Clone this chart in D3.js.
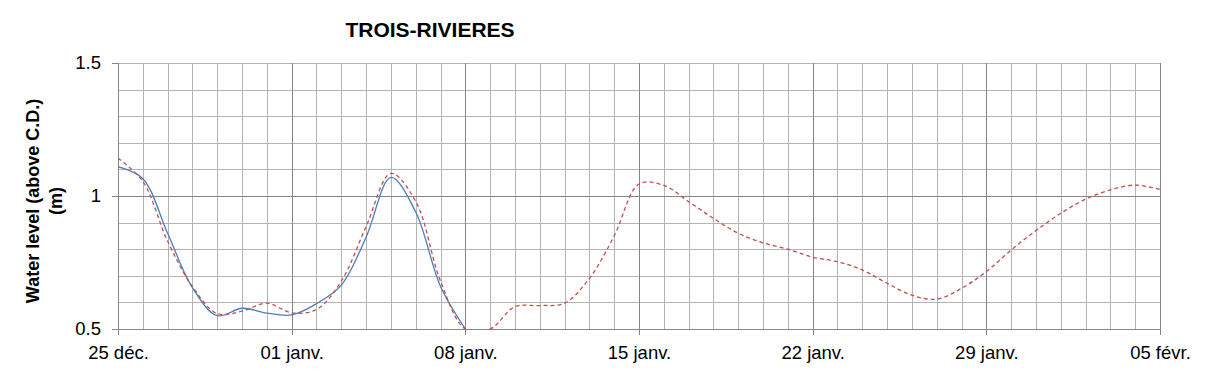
<!DOCTYPE html>
<html>
<head>
<meta charset="utf-8">
<script src="https://cdn.jsdelivr.net/npm/d3@7"></script>
<style>
  body { margin: 0; background: #fff; }
  svg { display: block; font-family: "Liberation Sans", Arial, sans-serif; }
</style>
</head>
<body>
<svg id="chart" width="1209" height="378"></svg>
<script>
// daily values starting 25 déc.
const startDate = new Date(2012, 11, 25);
const endDate = new Date(2013, 1, 5);
const observed = [1.11, 1.065, 0.86, 0.655, 0.55, 0.578, 0.56, 0.553, 0.595, 0.665,
  0.845, 1.07, 0.94, 0.66, 0.5];
const predicted = [1.142, 1.055, 0.83, 0.66, 0.558, 0.567, 0.597, 0.561, 0.573, 0.68,
  0.885, 1.085, 0.98, 0.68, 0.5, 0.5, 0.584, 0.588, 0.597, 0.69,
  0.85, 1.045, 1.04, 0.979, 0.916, 0.86, 0.824, 0.8, 0.77, 0.753,
  0.722, 0.672, 0.627, 0.612, 0.653, 0.716, 0.797, 0.87, 0.935, 0.988,
  1.023, 1.041, 1.025];
const yTicks = [0.5, 1, 1.5];
const title = "TROIS-RIVIERES";
const yLabel = ["Water level (above C.D.)", "(m)"];

const fr = d3.timeFormatLocale({
  dateTime: "%A %e %B %Y à %X", date: "%d/%m/%Y", time: "%H:%M:%S",
  periods: ["AM", "PM"],
  days: ["dimanche", "lundi", "mardi", "mercredi", "jeudi", "vendredi", "samedi"],
  shortDays: ["dim.", "lun.", "mar.", "mer.", "jeu.", "ven.", "sam."],
  months: ["janvier", "février", "mars", "avril", "mai", "juin", "juillet", "août", "septembre", "octobre", "novembre", "décembre"],
  shortMonths: ["janv.", "févr.", "mars", "avr.", "mai", "juin", "juil.", "août", "sept.", "oct.", "nov.", "déc."]
});

const svg = d3.select("#chart");
const marginLeft = 118, marginTop = 63, width = 1042, height = 266;

const x = d3.scaleTime().domain([startDate, endDate]).range([marginLeft, marginLeft + width]);
const y = d3.scaleLinear().domain([0.5, 1.5]).range([marginTop + height, marginTop]);

const toPoints = (arr) => arr.map((v, i) => [d3.timeDay.offset(startDate, i), v]);

const minorColor = "#b4b4b4", majorColor = "#868686";

// minor grid
svg.append("g")
  .attr("transform", `translate(0,${marginTop + height})`)
  .call(d3.axisBottom(x).ticks(d3.timeDay.every(1)).tickSize(-height).tickFormat(""))
  .call((g) => g.select(".domain").remove())
  .call((g) => g.selectAll("line").attr("stroke", minorColor).attr("shape-rendering", "crispEdges"));

svg.append("g")
  .attr("transform", `translate(${marginLeft},0)`)
  .call(d3.axisLeft(y).tickValues(d3.range(5, 16).map((d) => d / 10)).tickSize(-width).tickFormat(""))
  .call((g) => g.select(".domain").remove())
  .call((g) => g.selectAll("line").attr("stroke", minorColor).attr("shape-rendering", "crispEdges"));

// major grid + axes
const weekly = d3.range(0, 43, 7).map((d) => d3.timeDay.offset(startDate, d));

svg.append("g")
  .attr("transform", `translate(0,${marginTop + height})`)
  .call(d3.axisBottom(x).tickValues(weekly).tickSize(-height).tickFormat(""))
  .call((g) => g.select(".domain").remove())
  .call((g) => g.selectAll("line").attr("stroke", majorColor).attr("shape-rendering", "crispEdges"));

svg.append("g")
  .attr("transform", `translate(${marginLeft},0)`)
  .call(d3.axisLeft(y).tickValues([1]).tickSize(-width).tickFormat(""))
  .call((g) => g.select(".domain").remove())
  .call((g) => g.selectAll("line").attr("stroke", majorColor).attr("shape-rendering", "crispEdges"));

svg.append("g")
  .attr("transform", `translate(0,${marginTop + height})`)
  .call(d3.axisBottom(x).tickValues(weekly).tickSize(6).tickPadding(11).tickFormat(fr.format("%d %b")))
  .call((g) => g.select(".domain").attr("stroke", majorColor).attr("shape-rendering", "crispEdges"))
  .call((g) => g.selectAll("line").attr("stroke", majorColor).attr("shape-rendering", "crispEdges"))
  .call((g) => g.selectAll("text").attr("font-size", 18.5).attr("fill", "#000"));

svg.append("g")
  .attr("transform", `translate(${marginLeft},0)`)
  .call(d3.axisLeft(y).tickValues(yTicks).tickSize(6).tickPadding(11).tickFormat(d3.format("")))
  .call((g) => g.select(".domain").attr("stroke", majorColor).attr("shape-rendering", "crispEdges"))
  .call((g) => g.selectAll("line").attr("stroke", majorColor).attr("shape-rendering", "crispEdges"))
  .call((g) => g.selectAll("text").attr("font-size", 18.5).attr("fill", "#000"));

// series
svg.append("clipPath").attr("id", "plot-clip")
  .append("rect").attr("x", marginLeft).attr("y", marginTop - 2).attr("width", width).attr("height", height + 3);

const line = d3.line()
  .x((d) => x(d[0]))
  .y((d) => y(d[1]))
  .curve(d3.curveCatmullRom.alpha(0.5));

const series = svg.append("g").attr("clip-path", "url(#plot-clip)");

series.append("path")
  .attr("d", line(toPoints(observed)))
  .attr("fill", "none")
  .attr("stroke", "#4a7ebb")
  .attr("stroke-width", 1.3);

series.append("path")
  .attr("d", line(toPoints(predicted)))
  .attr("fill", "none")
  .attr("stroke", "#c0504d")
  .attr("stroke-width", 1.3)
  .attr("stroke-dasharray", "4,3");

// title
svg.append("text")
  .attr("x", 430)
  .attr("y", 37)
  .attr("text-anchor", "middle")
  .attr("font-size", 21)
  .attr("font-weight", "bold")
  .text(title);

// y label
const yl = svg.append("text")
  .attr("transform", `translate(39,${marginTop + height / 2 + 5}) rotate(-90)`)
  .attr("text-anchor", "middle")
  .attr("font-size", 18)
  .attr("font-weight", "bold");
yl.selectAll("tspan")
  .data(yLabel)
  .join("tspan")
  .attr("x", 0)
  .attr("dy", (d, i) => (i === 0 ? 0 : 23))
  .text((d) => d);
</script>
</body>
</html>
